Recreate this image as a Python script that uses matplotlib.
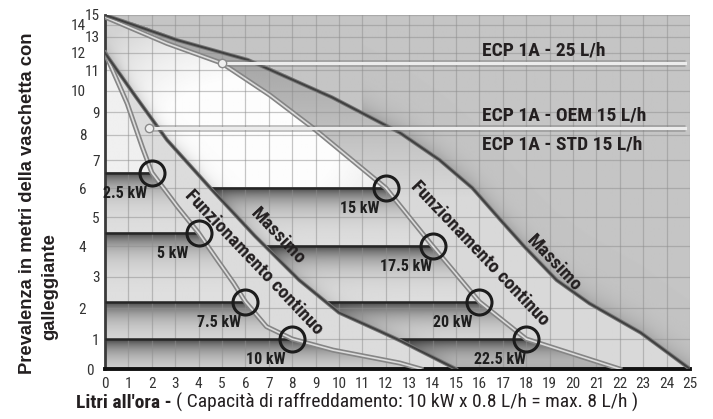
import numpy as np
import matplotlib

matplotlib.use("Agg")
import matplotlib.pyplot as plt
from matplotlib import font_manager

# pick a narrow face if one is installed, the original uses a condensed sans
fonts = font_manager.fontManager.ttflist
names = {f.name for f in fonts}
narrow = None
for cand in ("Liberation Sans Narrow", "Roboto Condensed", "Open Sans Condensed"):
    if cand in names:
        narrow = cand
        break
fs = 1.0
if narrow:
    plt.rcParams["font.family"] = [narrow, "DejaVu Sans"]
elif any(f.name == "DejaVu Sans" and f.stretch == "condensed" for f in fonts):
    plt.rcParams["font.family"] = ["DejaVu Sans"]
    plt.rcParams["font.stretch"] = "condensed"
    fs = 0.88
else:
    plt.rcParams["font.family"] = ["DejaVu Sans"]
    fs = 0.75
wide = ["Liberation Sans", "DejaVu Sans"]

# y axis of the original is not linear: tick value -> height of its grid line above the x axis
head_ticks = list(range(16))
head_grid = [0, 30, 61, 92, 123, 152, 181, 209, 234, 257, 278, 299, 316, 332, 344, 354]
flow_ticks = list(range(26))

# right family of curves
max_r_x = [0, 3.1, 6.1, 9.7, 12.6, 14.3, 15.7, 16.9, 17.9, 19.3, 20.7, 22.9, 25]
max_r_y = [15, 12.8, 11.6, 9.7, 8.1, 7.0, 6.0, 4.9, 4.0, 2.9, 2.15, 1.2, 0]
cont_r_x = [0, 2.65, 5.0, 7.05, 8.9, 12, 14, 16, 18, 20, 22]
cont_r_y = [14.8, 12.6, 11.4, 9.8, 8.3, 6.0, 4.0, 2.2, 1.0, 0.5, 0]

# left family of curves
max_l_x = [0, 1.3, 2.65, 4.5, 6.4, 8.3, 10.0, 11.75, 12.6, 15]
max_l_y = [12, 9.75, 7.8, 6.0, 4.35, 2.9, 1.85, 1.25, 0.95, 0]
cont_l_x = [0, 0.13, 0.95, 1.6, 2.0, 3.1, 4.0, 4.8, 5.5, 6.0, 6.9, 8.0, 9.75, 12.6, 13.5]
cont_l_y = [12, 11.6, 9.4, 7.5, 6.55, 5.35, 4.45, 3.55, 2.8, 2.2, 1.4, 1.0, 0.63, 0.2, 0]

kw_left = ["2.5 kW", "5 kW", "7.5 kW", "10 kW"]
flow_left = [2, 4, 6, 8]
head_left = [6.55, 4.45, 2.2, 1.0]
kw_right = ["15 kW", "17.5 kW", "20 kW", "22.5 kW"]
flow_right = [12, 14, 16, 18]
head_right = [6.0, 4.0, 2.2, 1.0]

ecp_head = [11.4, 8.3]
ecp_start = [5.0, 1.9]
ecp_end = 24.8
ecp_above = ["ECP 1A - 25 L/h", "ECP 1A - OEM 15 L/h"]
ecp_below = ["", "ECP 1A - STD 15 L/h"]
ecp_text_x = 16.1


def fwd(y):
    y = np.asarray(y, dtype=float)
    out = np.interp(y, head_ticks, head_grid)
    out = np.where(y < 0, y * (head_grid[1] - head_grid[0]), out)
    out = np.where(y > 15, head_grid[-1] + (y - 15) * (head_grid[-1] - head_grid[-2]), out)
    return out


def inv(p):
    p = np.asarray(p, dtype=float)
    out = np.interp(p, head_grid, head_ticks)
    out = np.where(p < 0, p / (head_grid[1] - head_grid[0]), out)
    out = np.where(p > head_grid[-1], 15 + (p - head_grid[-1]) / (head_grid[-1] - head_grid[-2]), out)
    return out


def shaded_background():
    nx, ny = 600, 354
    xs = (np.arange(nx) + 0.5) / nx * 25
    ps = (np.arange(ny) + 0.5) / ny * head_grid[-1]
    X, P = np.meshgrid(xs, ps)

    rm = fwd(np.interp(xs, max_r_x, max_r_y))[None, :]
    rc = fwd(np.interp(xs, cont_r_x, cont_r_y, right=0))[None, :]
    lm = fwd(np.interp(xs, max_l_x, max_l_y, right=0))[None, :]
    lc = fwd(np.interp(xs, cont_l_x, cont_l_y, right=0))[None, :]

    g = np.full(X.shape, 0.77)
    d = P - rm
    g -= 0.13 * np.exp(-np.clip(d, 0, None) / 12) * (d > 0) * (X > 11)

    strip = 0.85 - 0.19 * np.clip((P - 170) / 130, 0, 1)
    g = np.where(P < rm, strip, g)

    glow = 1.03 - 0.15 * (((X - 6) / 7.5) ** 2 + ((P - 225) / 125) ** 2)
    g = np.where(P < rc, np.clip(glow, 0.83, 0.99), g)

    def bands(g, under, heads):
        tops = fwd(heads)
        bots = list(tops[1:]) + [0]
        for top, bot in zip(tops, bots):
            m = under & (P <= top) & (P > bot)
            t = top - P
            val = 0.88 - 0.62 * np.exp(-t / 14)
            g = np.where(m, val, g)
        return g

    g = bands(g, P < rc, head_right)

    dl = P - lm
    g -= 0.14 * np.exp(-np.clip(dl, 0, None) / 9) * (dl > 0) * (P < rc)
    g = np.where(P < lm, 0.86, g)
    g = np.where(P < lc, 0.94, g)
    g = bands(g, P < lc, head_left)
    return g


fig = plt.figure(figsize=(7.13, 4.19), dpi=100)
ax = fig.add_axes([105 / 713, 50 / 419, 585 / 713, 354 / 419])
ax.set_yscale("function", functions=(fwd, inv))

ax.imshow(shaded_background(), cmap="gray", vmin=0, vmax=1, origin="lower",
          extent=(0, 1, 0, 1), transform=ax.transAxes, aspect="auto",
          interpolation="bilinear", zorder=0)

ax.set_axisbelow(True)
ax.grid(True, color="#8e8e8e", lw=0.9, alpha=0.5)

# capacity bands; the right ones are hidden behind the left strip
ml_x_rev, ml_y_rev = max_l_x[::-1], max_l_y[::-1]
for h, f in zip(head_right, flow_right):
    x0 = np.interp(h, ml_y_rev, ml_x_rev)
    ax.plot([x0, f], [h, h], color="#262626", lw=1.8, zorder=3, solid_capstyle="butt")
for h, f in zip(head_left, flow_left):
    ax.plot([0, f], [h, h], color="#262626", lw=1.8, zorder=3, solid_capstyle="butt")

# curves
for cx, cy in ((cont_r_x, cont_r_y), (cont_l_x, cont_l_y)):
    ax.plot(cx, cy, color="#858585", lw=3.6, zorder=4)
    ax.plot(cx, cy, color="#dcdcdc", lw=1.2, zorder=4)
for mx, my in ((max_r_x, max_r_y), (max_l_x, max_l_y)):
    ax.plot(mx, my, color="#777777", lw=2.8, zorder=4)
    ax.plot(mx, my, color="#404040", lw=1.4, zorder=4)

# ECP lines
for h, x0, above, below in zip(ecp_head, ecp_start, ecp_above, ecp_below):
    ax.plot([x0, ecp_end], [h, h], color="#7a7a7a", lw=5, alpha=0.45, zorder=5,
            solid_capstyle="butt")
    ax.plot([x0, ecp_end], [h, h], color="#ececec", lw=2.2, zorder=5)
    ax.plot([x0], [h], "o", ms=6, mfc="#efefef", mec="#8a8a8a", mew=1, zorder=6)
    ax.annotate(above, (ecp_text_x, h), xytext=(0, 2.5), textcoords="offset points",
                ha="left", va="bottom", fontsize=14 * fs, fontweight="bold", color="#231f20")
    if below:
        ax.annotate(below, (ecp_text_x, h), xytext=(0, -5), textcoords="offset points",
                    ha="left", va="top", fontsize=14 * fs, fontweight="bold", color="#231f20")

# circles and kW labels
for labels, flows, heads in ((kw_left, flow_left, head_left), (kw_right, flow_right, head_right)):
    ax.plot(flows, heads, "o", ms=18, mfc="none", mec="#1c1c1c", mew=2.2, zorder=7)
    for lab, f, h in zip(labels, flows, heads):
        ax.annotate(lab, (f, h), xytext=(-19, -15), textcoords="offset points",
                    ha="center", va="center", fontsize=11.5 * fs, fontweight="bold",
                    color="#1e1e1e", zorder=8)

# curve names
curve_text = dict(fontsize=14 * fs, fontweight="bold", color="#231f20", ha="center",
                  va="center", rotation=-46.5, rotation_mode="anchor", zorder=8)
ax.text(6.37, 3.48, "Funzionamento continuo", **curve_text)
ax.text(7.39, 4.34, "Massimo", **curve_text)
ax.text(16.0, 3.76, "Funzionamento continuo", **curve_text)
ax.text(19.2, 3.45, "Massimo", **curve_text)

ax.set_xlim(0, 25)
ax.set_ylim(0, 15)
ax.set_xticks(flow_ticks)
ax.set_yticks(head_ticks)
ax.tick_params(length=0, labelsize=11 * fs, labelcolor="#333333")
ax.tick_params(axis="x", pad=6)
for i, tick in enumerate(ax.yaxis.get_major_ticks()):
    tick.set_pad(8 if i == 0 else (13.5 if i % 2 == 0 else 4))

for side in ("top", "right"):
    ax.spines[side].set_visible(False)
ax.spines["left"].set_color("#3a3a3a")
ax.spines["left"].set_linewidth(2)
ax.spines["bottom"].set_color("#111111")
ax.spines["bottom"].set_linewidth(2.8)

fig.text(28 / 713, 1 - 203 / 419, "Prevalenza in metri della vaschetta con", rotation=90,
         ha="center", va="center", fontsize=13.2, fontweight="bold", color="#231f20",
         family=wide)
fig.text(50 / 713, 1 - 287 / 419, "galleggiante", rotation=90,
         ha="center", va="center", fontsize=13.2, fontweight="bold", color="#231f20",
         family=wide)

t1 = fig.text(76 / 713, 0.016, "Litri all'ora - ", ha="left", va="bottom",
              fontsize=14 * fs, fontweight="bold", color="#231f20")
ax.annotate("( Capacità di raffreddamento: 10 kW x 0.8 L/h = max. 8 L/h )", xy=(1, 0),
            xycoords=t1, ha="left", va="bottom", fontsize=14 * fs, color="#231f20",
            annotation_clip=False)

fig.savefig("out.png", dpi=100)
plt.close(fig)
